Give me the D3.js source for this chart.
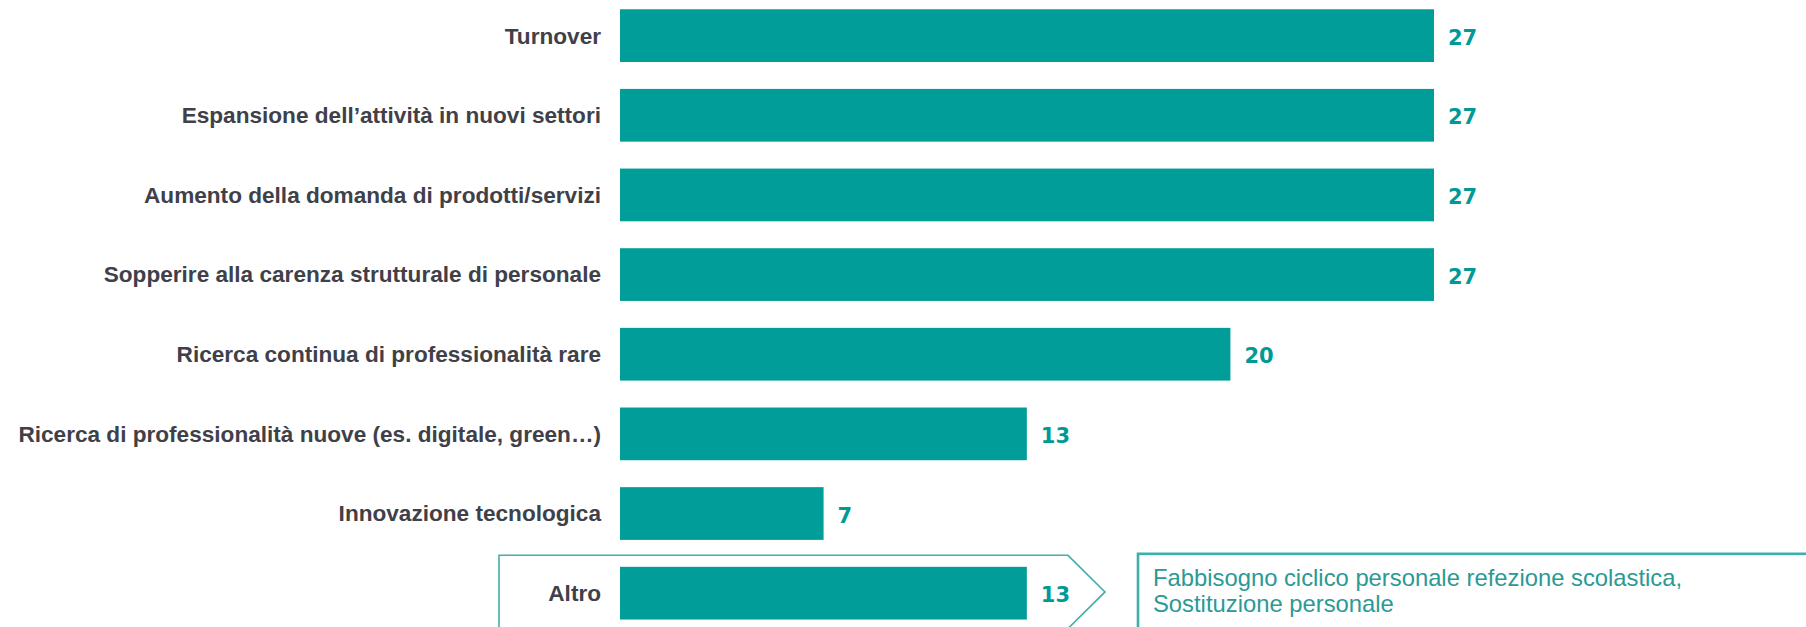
<!DOCTYPE html>
<html>
<head>
<meta charset="utf-8">
<script src="https://cdn.jsdelivr.net/npm/d3@7"></script>
<style>
  html, body { margin: 0; padding: 0; background: #ffffff; }
  svg { display: block; }
</style>
</head>
<body>
<svg id="chart" width="1806" height="627"></svg>
<script>
// ---- data ----
const categories = [
  "Turnover",
  "Espansione dell\u2019attivit\u00e0 in nuovi settori",
  "Aumento della domanda di prodotti/servizi",
  "Sopperire alla carenza strutturale di personale",
  "Ricerca continua di professionalit\u00e0 rare",
  "Ricerca di professionalit\u00e0 nuove (es. digitale, green\u2026)",
  "Innovazione tecnologica",
  "Altro"
];
const values = [26.67, 26.67, 26.67, 26.67, 20, 13.33, 6.67, 13.33];
const altroNote = [
  "Fabbisogno ciclico personale refezione scolastica,",
  "Sostituzione personale"
];

// ---- layout ----
const W = 1806, H = 627;
const barColor = "#009d99";
const labelColor = "#009a96";
const textColor = "#404049";
const boxColor = "#45aeaa";

const svg = d3.select("#chart");

const x = d3.scaleLinear()
  .domain([0, d3.max(values)])
  .range([620, 1434]);

const y = d3.scaleBand()
  .domain(categories)
  .range([-4.2, 633])
  .paddingInner(0.338)
  .paddingOuter(0.169);

const data = categories.map((c, i) => ({ cat: c, val: values[i] }));

// Altro highlight box (arrow shape)
const lastCat = categories[categories.length - 1];
const bTop = y(lastCat) - 11.5;
const bBot = y(lastCat) + y.bandwidth() + 9;
const bMid = (bTop + bBot) / 2;
const bLeft = 499, bRight = 1068, tip = 1105;
svg.append("path")
  .attr("d", `M${bLeft},${bTop} L${bRight},${bTop} L${tip},${bMid} L${bRight},${bBot} L${bLeft},${bBot} Z`)
  .attr("fill", "none")
  .attr("stroke", boxColor)
  .attr("stroke-width", 1.6);

// note box
svg.append("rect")
  .attr("x", 1138)
  .attr("y", bTop - 1.5)
  .attr("width", W)
  .attr("height", 200)
  .attr("fill", "none")
  .attr("stroke", "#3cb0ad")
  .attr("stroke-width", 2.6);

svg.append("g")
  .selectAll("text")
  .data(altroNote)
  .join("text")
  .attr("x", 1153)
  .attr("y", (d, i) => 586 + i * 26)
  .attr("font-family", "'Liberation Sans', Arial, sans-serif")
  .attr("font-size", 23.8)
  .attr("fill", "#2b9994")
  .text(d => d);

// bars
svg.append("g")
  .selectAll("rect")
  .data(data)
  .join("rect")
  .attr("x", x(0))
  .attr("y", d => y(d.cat))
  .attr("width", d => x(d.val) - x(0))
  .attr("height", y.bandwidth())
  .attr("fill", barColor);

// value labels
svg.append("g")
  .selectAll("text")
  .data(data)
  .join("text")
  .attr("x", d => x(d.val) + 14)
  .attr("y", d => y(d.cat) + y.bandwidth() / 2 + 3)
  .attr("dominant-baseline", "middle")
  .attr("font-family", "'DejaVu Sans', sans-serif")
  .attr("font-weight", "bold")
  .attr("font-size", 21)
  .attr("fill", labelColor)
  .text(d => d3.format(".0f")(d.val));

// category axis
const axis = svg.append("g")
  .attr("transform", `translate(${x(0)},0)`)
  .call(d3.axisLeft(y).tickSize(0).tickPadding(19));
axis.select(".domain").remove();
axis.selectAll("text")
  .attr("font-family", "'Liberation Sans', Arial, sans-serif")
  .attr("font-weight", "bold")
  .attr("font-size", 22.6)
  .attr("fill", textColor)
  .attr("dy", "0.35em");
</script>
</body>
</html>
